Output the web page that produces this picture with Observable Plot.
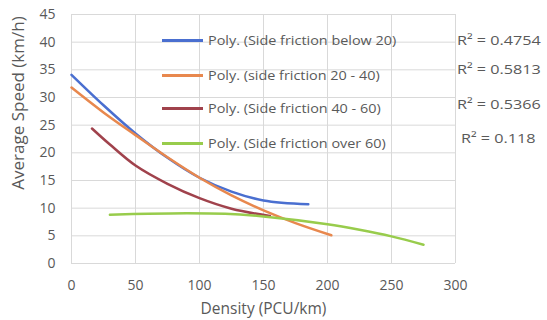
<!DOCTYPE html>
<html>
<head>
<meta charset="utf-8">
<script src="https://cdn.jsdelivr.net/npm/d3@7"></script>
<script src="https://cdn.jsdelivr.net/npm/@observablehq/plot@0.6"></script>
<style>
  html, body { margin: 0; padding: 0; background: #fff; }
  #wrap { position: relative; width: 547px; height: 320px; font-family: "Open Sans", sans-serif; overflow: hidden; }
  .leg { position: absolute; left: 162px; display: flex; align-items: center; height: 16px; margin-top: -8px; font-size: 12px; color: #595959; white-space: nowrap; }
  .leg .sw { width: 41px; height: 3px; margin-right: 5px; }
  .leg span { display: inline-block; transform: scaleX(1.2); transform-origin: left center; }
  .r2 { position: absolute; font-size: 13.5px; color: #595959; white-space: nowrap; height: 18px; line-height: 18px; margin-top: -9px; transform: scaleX(1.2); transform-origin: left center; }
  .ytitle { position: absolute; left: 17px; top: 103px; font-size: 17px; color: #595959; white-space: nowrap; transform: translate(-50%, -50%) rotate(-90deg); }
</style>
</head>
<body>
<div id="wrap"></div>
<script>
// Series names and R² labels
const seriesNames = [
  "Poly. (Side friction below 20)",
  "Poly. (side friction 20 - 40)",
  "Poly. (Side friction 40 - 60)",
  "Poly. (Side friction over 60)"
];
const r2Labels = ["R\u00B2 = 0.4754", "R\u00B2 = 0.5813", "R\u00B2 = 0.5366", "R\u00B2 = 0.118"];
const seriesColors = ["#4a6fd0", "#e8884e", "#a0424c", "#98cc4c"];

// Values
const densityBelow20 = [0, 25, 50, 75, 100, 125, 150, 185];
const speedBelow20   = [34.1, 28.6, 23.5, 19.1, 15.5, 13.0, 11.4, 10.7];

const density20to40 = [0, 25, 50, 75, 100, 125, 150, 175, 203];
const speed20to40   = [31.8, 27.3, 23.2, 19.2, 15.5, 12.3, 9.6, 7.3, 5.1];

const density40to60 = [16, 30, 50, 75, 100, 125, 155];
const speed40to60   = [24.4, 21.5, 17.7, 14.4, 11.8, 9.9, 8.6];

const densityOver60 = [30, 60, 90, 120, 150, 200, 225, 250, 275];
const speedOver60   = [8.8, 9.0, 9.1, 9.0, 8.5, 7.1, 6.1, 4.9, 3.4];

const xTicks = [0, 50, 100, 150, 200, 250, 300];
const yTicks = [0, 5, 10, 15, 20, 25, 30, 35, 40, 45];
const xTitle = "Density (PCU/km)";
const yTitle = "Average Speed (km/h)";

const allX = [densityBelow20, density20to40, density40to60, densityOver60];
const allY = [speedBelow20, speed20to40, speed40to60, speedOver60];
const rows = [];
allX.forEach((xs, i) => xs.forEach((x, j) => rows.push({series: seriesNames[i], density: x, speed: allY[i][j]})));

const chart = Plot.plot({
  width: 547,
  height: 320,
  marginLeft: 71,
  marginRight: 92,
  marginTop: 14,
  marginBottom: 57,
  style: {fontFamily: "Open Sans, sans-serif", fontSize: "14px", color: "#595959", background: "#fff"},
  x: {domain: [0, 300], ticks: xTicks, label: null},
  y: {domain: [0, 45], ticks: yTicks, label: null},
  color: {domain: seriesNames, range: seriesColors},
  marks: [
    Plot.gridX(xTicks, {stroke: "#d9d9d9", strokeOpacity: 1}),
    Plot.gridY(yTicks, {stroke: "#d9d9d9", strokeOpacity: 1}),
    Plot.axisX(xTicks, {tickSize: 0, tickPadding: 17, fontSize: 14, fill: "#595959"}),
    Plot.axisY(yTicks, {tickSize: 0, tickPadding: 16, fontSize: 14, fill: "#595959"}),
    Plot.line(rows, {x: "density", y: "speed", z: "series", stroke: "series", strokeWidth: 2.5, curve: "catmull-rom"}),
    Plot.text([xTitle], {frameAnchor: "bottom", text: d => d, dy: 50, fontSize: 15.5, fill: "#595959"})
  ]
});

const wrap = document.getElementById("wrap");
wrap.appendChild(chart);

const yt = document.createElement("div");
yt.className = "ytitle";
yt.textContent = yTitle;
wrap.appendChild(yt);

const legendY = [40.5, 75, 108, 143];
seriesNames.forEach((name, i) => {
  const row = document.createElement("div");
  row.className = "leg";
  row.style.top = legendY[i] + "px";
  const sw = document.createElement("div");
  sw.className = "sw";
  sw.style.background = seriesColors[i];
  const t = document.createElement("span");
  t.textContent = name;
  row.appendChild(sw);
  row.appendChild(t);
  wrap.appendChild(row);
});

const r2Y = [40, 69, 104, 138];
const r2X = [457, 457, 457, 461];
r2Labels.forEach((lab, i) => {
  const d = document.createElement("div");
  d.className = "r2";
  d.style.top = r2Y[i] + "px";
  d.style.left = r2X[i] + "px";
  d.textContent = lab;
  wrap.appendChild(d);
});
</script>
</body>
</html>
